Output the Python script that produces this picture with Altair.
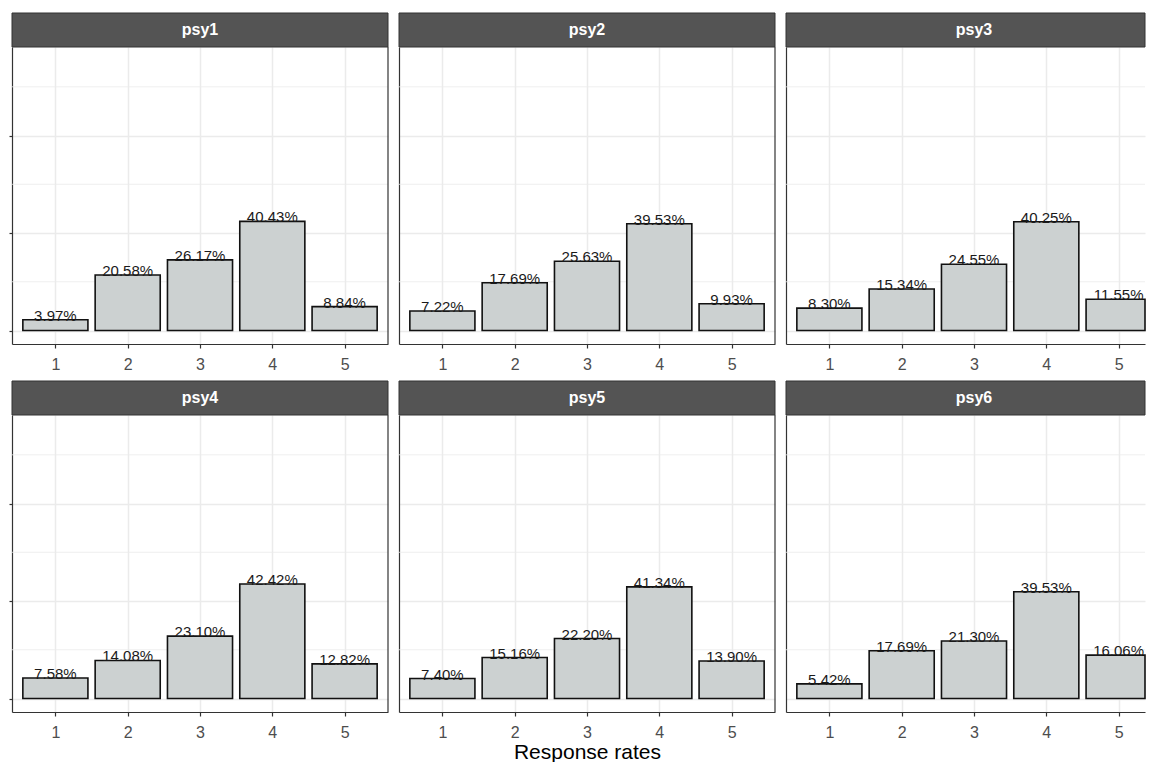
import altair as alt
import pandas as pd

# ---- data ----
panels = ["psy1", "psy2", "psy3", "psy4", "psy5", "psy6"]
categories = [1, 2, 3, 4, 5]
total_n = 554
psy1 = [22, 114, 145, 224, 49]
psy2 = [40, 98, 142, 219, 55]
psy3 = [46, 85, 136, 223, 64]
psy4 = [42, 78, 128, 235, 71]
psy5 = [41, 84, 123, 229, 77]
psy6 = [30, 98, 118, 219, 89]
major_y = [0, 200, 400]
minor_y = [100, 300, 500]
x_title = "Response rates"

series = [psy1, psy2, psy3, psy4, psy5, psy6]

FONT = "Liberation Sans"
W = 376
W_LAST = 359
H = 297
STRIP = 34
GRID = "#EBEBEB"
DARK = "#333333"


def panel(name, counts, width, first_col, last_col, show_title):
    df = pd.DataFrame({"cat": categories, "count": counts})
    strip_df = pd.DataFrame({"panel": [name]})
    minor_df = pd.DataFrame({"v": minor_y})

    x_max = 0.4 + 5.2 * width / W
    xscale = alt.Scale(domain=[0.4, x_max], nice=False, zero=False)
    yscale = alt.Scale(domain=[-0.05 * total_n, 1.05 * total_n], nice=False, zero=False)

    xkw = dict(values=categories, format="d", grid=True, gridColor=GRID, gridWidth=1.5,
               domain=True, domainColor=DARK, domainWidth=1.2,
               ticks=True, tickColor=DARK, tickSize=4, tickWidth=1.2,
               labelFont=FONT, labelFontSize=16, labelColor="#4D4D4D", labelPadding=8,
               labelAngle=0, titleFont=FONT, titleFontSize=21, titleFontWeight="normal",
               titleColor="#000000", titlePadding=1)
    if show_title:
        xkw["title"] = x_title
    else:
        xkw["title"] = None
    xaxis = alt.Axis(**xkw)

    ykw = dict(values=major_y, labels=False, grid=True, gridColor=GRID, gridWidth=1.5,
               domain=True, domainColor=DARK, domainWidth=1.2, title=None)
    if first_col:
        ykw.update(ticks=True, tickSize=3, tickColor=DARK, tickWidth=1.2)
    else:
        ykw.update(ticks=False)
    yaxis = alt.Axis(**ykw)

    base = alt.Chart(df).transform_calculate(
        lo="datum.cat - 0.45",
        hi="min(datum.cat + 0.45, " + repr(x_max) + ")",
        zero="0",
        pct="datum.count / " + str(total_n))

    minor = alt.Chart(minor_df).mark_rule(color=GRID, strokeWidth=0.8).encode(
        y=alt.Y("v:Q", scale=yscale, axis=yaxis))

    bars = base.mark_bar(fill="#CCD1D1", stroke="#111111", strokeWidth=1.6).encode(
        x=alt.X("lo:Q", scale=xscale, axis=xaxis),
        x2="hi:Q",
        y=alt.Y("count:Q", scale=yscale, axis=yaxis),
        y2="zero:Q")

    labels = base.mark_text(font=FONT, fontSize=15, color="#1A1A1A",
                            baseline="alphabetic", dy=1).encode(
        x=alt.X("cat:Q", scale=xscale, axis=xaxis),
        y=alt.Y("count:Q", scale=yscale, axis=yaxis),
        text=alt.Text("pct:Q", format=".2%"))

    strip = alt.Chart(strip_df).mark_rect(fill="#545454", stroke=DARK, strokeWidth=1).encode(
        x=alt.value(0), x2=alt.value(width), y=alt.value(-STRIP), y2=alt.value(0))
    strip_text = alt.Chart(strip_df).mark_text(font=FONT, fontSize=16, fontWeight="bold",
                                               color="#FFFFFF", baseline="middle").encode(
        x=alt.value(W / 2), y=alt.value(-STRIP / 2), text="panel:N")

    layers = [minor, bars, labels, strip, strip_text]
    if not last_col:
        border = alt.Chart(strip_df).mark_rule(color=DARK, strokeWidth=1.2).encode(
            x=alt.value(width), y=alt.value(0), y2=alt.value(H))
        layers.append(border)

    return alt.layer(*layers).properties(width=width, height=H)


rows = []
for r in range(2):
    cells = []
    for c in range(3):
        i = r * 3 + c
        width = W_LAST if c == 2 else W
        cells.append(panel(panels[i], series[i], width, c == 0, c == 2, r == 1 and c == 1))
    rows.append(alt.hconcat(*cells, spacing=9).resolve_scale(x="independent", y="independent"))

chart = alt.vconcat(*rows, spacing=8).properties(
    padding={"top": 4, "left": 0, "right": 0, "bottom": 0},
    background="#FFFFFF",
).configure_view(strokeWidth=0)

chart.save("out.html", embed_options={"renderer": "svg", "actions": False})
